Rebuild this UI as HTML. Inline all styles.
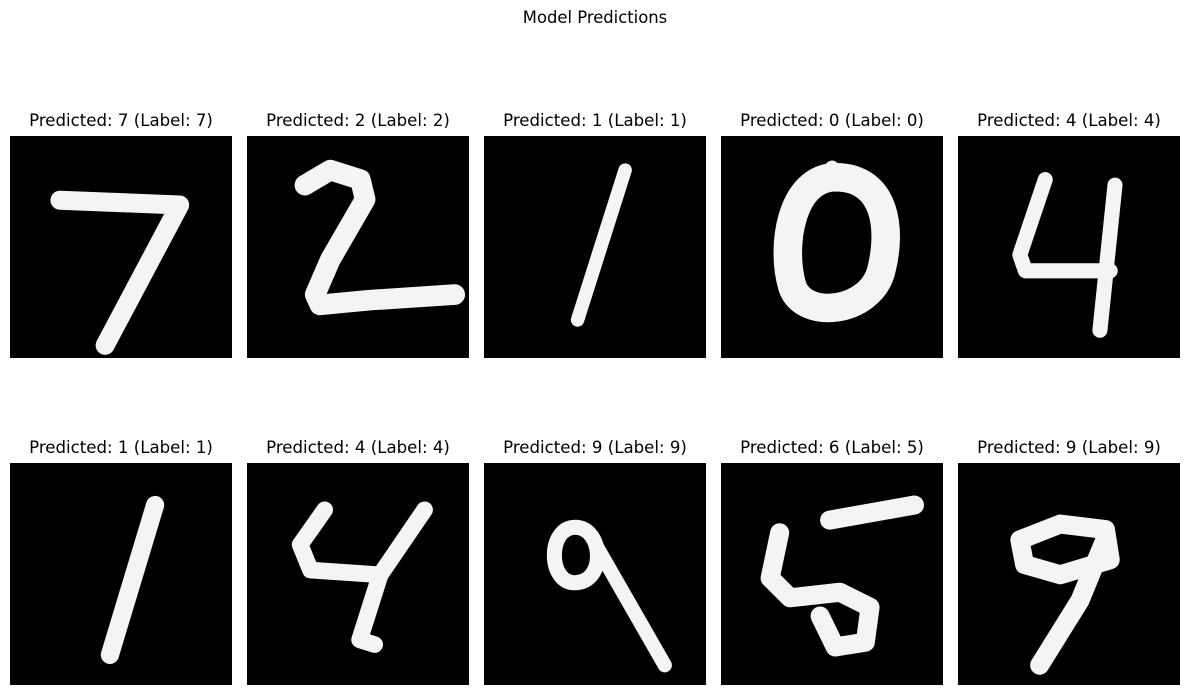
<!DOCTYPE html>
<html><head><meta charset="utf-8"><style>
body{margin:0;background:#fff;}
#wrap{position:relative;width:1189px;height:695px;overflow:hidden;font-family:"DejaVu Sans","Liberation Sans",sans-serif;}
.t{position:absolute;font-size:16.6px;color:#000;text-align:center;width:260px;white-space:nowrap;line-height:20px;}
svg.p{position:absolute;width:222px;height:222px;background:#000;}
</style></head><body>
<div id="wrap">
<div class="t" style="left:465px;top:8px;font-size:16.4px;">Model Predictions</div>
</div>
<script>
const predicted=[7,2,1,0,4,1,4,9,6,9];
const labels=[7,2,1,0,4,1,4,9,5,9];
const lefts=[10,247,484,721,958];
const tops=[136,463];
const strokes=[
 [["M6.3 8.1 L21.4 8.7 L12 26.4",2.4]],
 [["M7.3 6.2 L10.5 4.3 L14.3 5.5 L14.9 8 L10.5 15.6 L8.6 20 L9.2 21.3 L15.5 20.7 L26.2 20",2.6]],
 [["M17.8 4.3 L11.8 23.2",1.7]],
 [["M14.4 5.2 C21 5.2 21.5 12 20.2 17 C18.8 22.3 10.5 23.3 9 19 C7.5 14 8.8 5.3 14.4 5.2 Z",3.6],["M14 4 L14.4 5.5",1.8]],
 [["M11 5.5 L7.8 15 L8.5 17 L19.2 17",1.9],["M19.8 6.2 L17.9 24.5",1.9]],
 [["M18.3 5.3 L12.6 24.2",2.3]],
 [["M9.8 5.9 L6.7 10.3 L8 13.5 L16.8 14.1 L22.4 5.9",2.1],["M16.8 14.1 L14.2 22.3 L16.1 22.9",2.1]],
 [["M11.5 8.1 C15 8.1 15.5 15 11.5 15.1 C8 15.2 8 8.1 11.5 8.1 Z",1.9],["M14.2 10.5 L22.8 25.5",1.8]],
 [["M13.7 7.2 L24.4 5.3",2.4],["M7.4 8.8 L6.2 14.5 L8.7 17 L15 16.3 L18.8 18.2 L18.2 22.6 L14.4 23.2 L12.5 19.3",2.4]],
 [["M7.8 9.7 L12.9 7.7 L18.6 8.4 L19.2 12.2 L12.9 14.1 L8.4 12.8 Z",2.4],["M18.6 9.5 L15.4 17.3 L10.3 25.5",2.4]]
];
const wrap=document.getElementById('wrap');
const NS='http://www.w3.org/2000/svg';
for(let i=0;i<10;i++){
 const x=lefts[i%5], y=tops[Math.floor(i/5)];
 const t=document.createElement('div');
 t.className='t';
 
 
 t.style.left=(x+111-130)+'px';t.style.top=(y-25)+'px';
 t.textContent='Predicted: '+predicted[i]+' (Label: '+labels[i]+')';
 wrap.appendChild(t);
 const s=document.createElementNS(NS,'svg');
 s.setAttribute('class','p');
 s.setAttribute('viewBox','0 0 28 28');
 
 
 s.style.left=x+'px';s.style.top=y+'px';
 strokes[i].forEach(st=>{
  const p=document.createElementNS(NS,'path');
  p.setAttribute('d',st[0]);
  p.setAttribute('fill','none');
  p.setAttribute('stroke','#f4f4f4');
  p.setAttribute('stroke-width',st[1]);
  p.setAttribute('stroke-linecap','round');
  p.setAttribute('stroke-linejoin','round');
  
  
  s.appendChild(p);
 });
 wrap.appendChild(s);
}
</script>
</body></html>
